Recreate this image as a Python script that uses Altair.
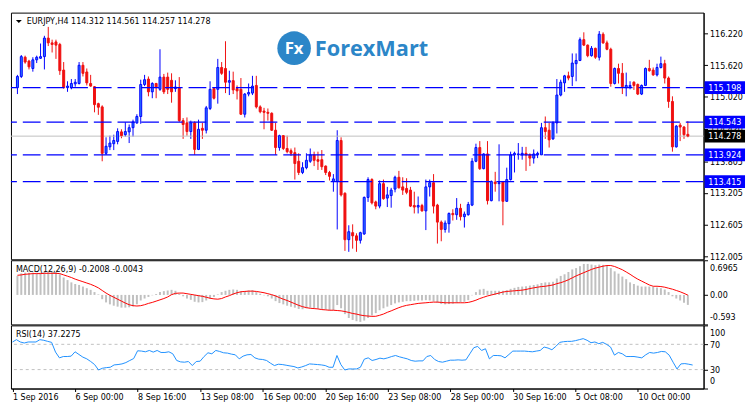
import altair as alt
import pandas as pd

# ---------------- data ----------------
opens = [
115.196, 115.408, 115.772, 115.699, 115.559, 115.723, 115.753, 115.784, 116.135, 116.044,
116.062, 116.014, 115.529, 115.196, 115.196, 115.268, 115.275, 115.620, 115.493, 115.275,
115.214, 114.893, 114.832, 113.953, 114.075, 114.135, 114.178, 114.359, 114.305, 114.359,
114.438, 114.529, 114.650, 115.256, 115.359, 115.117, 115.275, 115.165, 115.396, 115.396,
115.335, 115.178, 115.196, 114.572, 114.529, 114.365, 114.529, 114.026, 114.426, 114.390,
114.802, 115.178, 115.165, 115.578, 115.559, 115.299, 115.329, 115.178, 115.165, 114.693,
115.075, 115.093, 115.238, 114.832, 114.753, 114.729, 114.711, 114.390, 114.062, 114.287,
114.044, 114.002, 113.965, 113.802, 113.590, 113.681, 113.802, 113.923, 113.832, 113.832,
113.711, 113.590, 113.420, 113.420, 114.196, 113.196, 112.317, 112.450, 112.390, 112.305,
112.426, 113.117, 113.456, 113.032, 112.953, 113.378, 113.105, 113.153, 113.275, 113.499,
113.317, 113.287, 113.256, 112.965, 112.935, 112.965, 112.862, 113.317, 113.396, 112.972,
112.650, 112.511, 112.620, 112.814, 112.790, 112.911, 112.753, 112.790, 112.972, 113.802,
114.062, 113.662, 113.941, 113.056, 113.408, 113.378, 113.408, 113.044, 113.456, 113.923,
113.923, 113.923, 113.953, 113.923, 113.862, 113.923, 113.923, 114.438, 114.390, 114.226,
114.529, 115.056, 115.287, 115.420, 115.408, 115.650, 115.711, 116.105, 116.002, 115.802,
115.941, 115.772, 116.208, 116.044, 115.923, 115.275, 115.559, 115.468, 115.196, 115.214,
115.299, 115.256, 115.075, 115.238, 115.559, 115.529, 115.438, 115.578, 115.650, 115.378,
114.935, 114.075, 114.487, 114.450, 114.312]

highs = [
115.438, 115.814, 115.802, 115.723, 115.772, 115.802, 116.032, 116.178, 116.347, 116.105,
116.105, 116.044, 115.681, 115.317, 115.359, 115.359, 115.681, 115.681, 115.559, 115.438,
115.226, 114.911, 114.862, 114.256, 114.287, 114.305, 114.426, 114.408, 114.541, 114.499,
114.590, 114.693, 115.347, 115.438, 115.408, 115.299, 115.287, 115.923, 115.456, 115.481,
115.468, 115.335, 115.396, 114.620, 114.632, 114.572, 114.559, 114.590, 114.529, 114.850,
115.317, 115.196, 115.741, 115.681, 116.075, 115.517, 115.499, 115.238, 115.378, 115.093,
115.275, 115.420, 115.420, 114.862, 114.814, 114.802, 114.729, 114.529, 114.305, 114.299,
114.287, 114.044, 114.062, 113.953, 113.784, 113.953, 114.044, 113.984, 113.984, 114.014,
113.723, 113.620, 113.559, 114.390, 114.256, 113.214, 112.590, 112.608, 112.438, 112.468,
113.135, 113.499, 113.481, 113.056, 113.438, 113.456, 113.317, 113.299, 113.529, 113.620,
113.499, 113.481, 113.317, 113.226, 113.135, 112.996, 113.456, 113.456, 113.559, 112.996,
112.681, 112.681, 112.832, 112.893, 113.105, 112.996, 112.850, 113.032, 113.862, 114.135,
114.184, 113.953, 114.184, 113.438, 113.602, 114.123, 113.420, 113.681, 113.984, 113.984,
114.147, 114.075, 114.075, 113.953, 114.026, 113.984, 114.529, 114.650, 114.529, 114.559,
115.359, 115.347, 115.438, 115.499, 115.844, 115.844, 116.147, 116.244, 116.014, 115.984,
115.953, 116.268, 116.244, 116.087, 115.953, 115.578, 115.650, 115.662, 115.481, 115.317,
115.317, 115.275, 115.256, 115.578, 115.723, 115.578, 115.650, 115.784, 115.723, 115.408,
115.032, 114.487, 114.529, 114.468, 114.561]

lows = [
115.075, 115.378, 115.650, 115.541, 115.499, 115.662, 115.741, 115.541, 115.984, 115.862,
115.741, 115.438, 115.178, 115.117, 115.165, 115.214, 115.256, 115.408, 115.238, 115.214,
114.729, 114.681, 113.802, 113.923, 114.014, 114.014, 114.123, 114.238, 114.268, 114.147,
114.268, 114.511, 114.511, 115.226, 115.032, 114.996, 114.996, 115.135, 115.075, 115.075,
114.911, 115.117, 114.547, 114.226, 114.287, 114.226, 113.923, 114.014, 114.226, 114.329,
114.772, 114.972, 114.893, 115.438, 115.093, 115.056, 115.075, 114.972, 114.681, 114.632,
115.032, 115.056, 114.802, 114.711, 114.408, 114.572, 114.378, 113.923, 114.002, 114.014,
113.953, 113.905, 113.456, 113.541, 113.559, 113.650, 113.772, 113.711, 113.638, 113.638,
113.541, 113.438, 113.226, 112.511, 113.135, 112.105, 112.087, 112.147, 112.087, 112.244,
112.408, 113.032, 112.984, 112.893, 112.911, 113.075, 112.935, 112.923, 113.214, 113.287,
113.165, 113.178, 112.935, 112.814, 112.814, 112.850, 112.499, 113.135, 112.814, 112.244,
112.287, 112.450, 112.450, 112.681, 112.693, 112.681, 112.547, 112.772, 112.953, 113.784,
113.638, 113.650, 112.984, 113.044, 113.226, 113.044, 112.590, 113.032, 113.438, 113.590,
113.832, 113.832, 113.620, 113.711, 113.759, 113.862, 113.923, 114.226, 114.062, 114.208,
114.329, 115.032, 115.117, 115.335, 115.226, 115.317, 115.699, 115.984, 115.772, 115.784,
115.741, 115.711, 116.026, 115.905, 115.214, 115.256, 115.275, 115.075, 115.032, 115.165,
115.153, 115.056, 115.056, 115.226, 115.499, 115.420, 115.408, 115.559, 115.275, 114.814,
113.984, 114.062, 114.184, 114.226, 114.257]

closes = [
115.408, 115.784, 115.681, 115.590, 115.723, 115.772, 115.784, 116.135, 116.044, 116.014,
116.002, 115.517, 115.196, 115.226, 115.275, 115.299, 115.620, 115.468, 115.287, 115.226,
114.875, 114.826, 113.953, 114.087, 114.147, 114.196, 114.365, 114.287, 114.365, 114.438,
114.547, 114.650, 115.256, 115.347, 115.117, 115.275, 115.196, 115.396, 115.117, 115.165,
115.117, 115.208, 114.572, 114.499, 114.365, 114.529, 114.026, 114.408, 114.390, 114.814,
115.165, 114.996, 115.578, 115.468, 115.299, 115.329, 115.153, 115.135, 114.693, 115.075,
115.105, 115.226, 114.832, 114.741, 114.729, 114.711, 114.390, 114.062, 114.287, 114.044,
113.984, 113.953, 113.759, 113.590, 113.681, 113.820, 113.923, 113.820, 113.802, 113.699,
113.590, 113.517, 113.468, 114.196, 113.165, 112.317, 112.468, 112.390, 112.305, 112.450,
113.117, 113.456, 113.014, 112.953, 113.378, 113.093, 113.165, 113.256, 113.499, 113.299,
113.256, 113.214, 112.953, 112.935, 112.965, 112.862, 113.317, 113.396, 112.953, 112.650,
112.511, 112.632, 112.814, 112.790, 112.911, 112.753, 112.802, 112.984, 113.802, 114.062,
113.662, 113.941, 113.056, 113.420, 113.378, 113.396, 113.044, 113.456, 113.923, 113.953,
113.941, 113.953, 113.923, 113.862, 113.941, 113.953, 114.438, 114.365, 114.208, 114.529,
115.056, 115.299, 115.420, 115.378, 115.662, 115.711, 116.105, 116.002, 115.802, 115.941,
115.772, 116.208, 116.044, 115.923, 115.275, 115.559, 115.468, 115.214, 115.238, 115.238,
115.238, 115.075, 115.238, 115.559, 115.517, 115.438, 115.578, 115.650, 115.378, 114.935,
114.075, 114.468, 114.450, 114.305, 114.278]

macd_hist = [
0.382, 0.434, 0.448, 0.448, 0.448, 0.448, 0.448, 0.461, 0.467, 0.467,
0.461, 0.415, 0.350, 0.298, 0.252, 0.220, 0.200, 0.168, 0.135, 0.102,
0.057, 0.011, -0.086, -0.151, -0.190, -0.217, -0.236, -0.256, -0.256, -0.249,
-0.230, -0.190, -0.112, -0.073, -0.041, -0.008, 0.018, 0.057, 0.076, 0.089,
0.102, 0.083, 0.024, -0.028, -0.073, -0.099, -0.138, -0.151, -0.145, -0.112,
-0.073, -0.041, 0.011, 0.057, 0.083, 0.102, 0.109, 0.102, 0.070, 0.076,
0.089, 0.096, 0.057, 0.024, -0.008, -0.028, -0.073, -0.125, -0.164, -0.190,
-0.217, -0.236, -0.256, -0.282, -0.288, -0.269, -0.256, -0.262, -0.275, -0.282,
-0.295, -0.314, -0.308, -0.204, -0.269, -0.386, -0.464, -0.503, -0.529, -0.542,
-0.516, -0.464, -0.412, -0.366, -0.308, -0.269, -0.236, -0.204, -0.171, -0.151,
-0.138, -0.125, -0.125, -0.119, -0.112, -0.112, -0.106, -0.112, -0.132, -0.158,
-0.184, -0.190, -0.184, -0.177, -0.164, -0.151, -0.138, -0.106, -0.008, 0.057,
0.109, 0.122, 0.083, 0.083, 0.083, 0.083, 0.083, 0.096, 0.122, 0.142,
0.161, 0.168, 0.174, 0.187, 0.200, 0.213, 0.239, 0.252, 0.252, 0.265,
0.330, 0.382, 0.415, 0.461, 0.513, 0.539, 0.578, 0.623, 0.623, 0.610,
0.597, 0.610, 0.604, 0.591, 0.539, 0.474, 0.428, 0.369, 0.317, 0.252,
0.220, 0.187, 0.168, 0.168, 0.168, 0.161, 0.148, 0.135, 0.109, 0.057,
-0.028, -0.073, -0.112, -0.158, -0.2008]

macd_signal = [
0.395, 0.402, 0.415, 0.421, 0.428, 0.428, 0.428, 0.434, 0.434, 0.434,
0.434, 0.428, 0.402, 0.376, 0.350, 0.317, 0.291, 0.265, 0.239, 0.213,
0.181, 0.142, 0.089, 0.037, -0.008, -0.047, -0.086, -0.125, -0.164, -0.197,
-0.217, -0.223, -0.217, -0.197, -0.171, -0.151, -0.125, -0.099, -0.073, -0.041,
0.005, 0.031, 0.037, 0.037, 0.024, 0.011, -0.002, -0.015, -0.028, -0.047,
-0.067, -0.080, -0.086, -0.073, -0.041, -0.015, 0.018, 0.044, 0.063, 0.070,
0.076, 0.076, 0.070, 0.057, 0.044, 0.024, 0.005, -0.021, -0.054, -0.086,
-0.112, -0.145, -0.177, -0.210, -0.236, -0.256, -0.269, -0.275, -0.282, -0.295,
-0.301, -0.308, -0.308, -0.314, -0.321, -0.334, -0.353, -0.373, -0.386, -0.405,
-0.418, -0.425, -0.431, -0.430, -0.410, -0.385, -0.350, -0.321, -0.288, -0.256,
-0.230, -0.210, -0.197, -0.184, -0.171, -0.164, -0.158, -0.151, -0.145, -0.145,
-0.151, -0.158, -0.158, -0.158, -0.158, -0.158, -0.158, -0.151, -0.132, -0.106,
-0.073, -0.047, -0.021, -0.002, 0.018, 0.037, 0.057, 0.070, 0.076, 0.083,
0.089, 0.096, 0.109, 0.128, 0.142, 0.155, 0.168, 0.174, 0.187, 0.200,
0.226, 0.246, 0.272, 0.304, 0.343, 0.382, 0.415, 0.448, 0.480, 0.513,
0.539, 0.558, 0.578, 0.591, 0.591, 0.571, 0.539, 0.506, 0.461, 0.415,
0.363, 0.317, 0.278, 0.239, 0.200, 0.174, 0.174, 0.168, 0.155, 0.135,
0.115, 0.089, 0.063, 0.031, -0.0043]

rsi = [
73.7, 77.4, 73.7, 72.1, 73.7, 73.7, 73.7, 77.4, 76.4, 74.7,
73.1, 57.7, 48.6, 50.7, 50.7, 51.3, 58.2, 53.9, 49.7, 47.0,
42.8, 38.0, 29.4, 32.1, 33.1, 33.7, 37.4, 38.0, 39.0, 41.1,
44.4, 47.5, 59.8, 59.3, 58.2, 60.3, 57.7, 60.3, 57.1, 57.1,
58.2, 55.0, 44.4, 42.2, 41.7, 42.8, 36.4, 42.8, 43.3, 50.7,
56.6, 55.0, 60.3, 58.7, 56.6, 56.1, 54.5, 53.4, 47.0, 51.3,
53.4, 53.9, 48.6, 46.5, 46.0, 44.4, 40.1, 36.4, 38.5, 38.0,
36.9, 35.8, 34.8, 32.6, 34.2, 36.4, 39.0, 38.5, 38.0, 37.4,
36.4, 33.7, 33.7, 52.3, 38.0, 29.4, 31.0, 31.0, 31.0, 33.7,
46.5, 48.6, 44.4, 46.0, 48.1, 47.0, 48.6, 50.7, 52.3, 50.2,
48.6, 47.0, 44.4, 43.3, 43.8, 43.8, 50.7, 52.3, 46.0, 42.8,
41.7, 43.3, 44.9, 44.9, 45.4, 44.9, 45.4, 55.0, 64.6, 66.7,
60.3, 63.0, 47.0, 52.3, 52.3, 51.8, 48.6, 53.9, 59.3, 59.3,
59.3, 59.3, 58.7, 58.2, 59.3, 60.3, 65.7, 64.1, 61.4, 66.7,
73.1, 74.2, 74.7, 74.7, 75.8, 77.4, 79.0, 76.4, 72.6, 73.7,
71.0, 73.1, 69.9, 65.7, 52.9, 57.1, 55.0, 50.7, 50.7, 50.7,
49.7, 48.6, 53.4, 57.1, 56.1, 57.1, 58.7, 58.2, 52.9, 41.7,
31.0, 39.0, 39.5, 38.5, 37.2275]

levels = [115.198, 114.543, 113.924, 113.415]
bid = [114.278]
price_ticks = [116.220, 115.620, 115.020, 114.420, 113.805, 113.205, 112.605, 112.005]
macd_ticks = [0.6965, 0.0, -0.593]
rsi_ticks = [100, 70, 30, 0]
rsi_levels = [70, 30]
date_bars = [0, 16, 32, 48, 64, 80, 96, 112, 128, 144, 160]
date_labels = ["1 Sep 2016", "6 Sep 00:00", "8 Sep 16:00", "13 Sep 08:00", "16 Sep 00:00",
               "20 Sep 16:00", "23 Sep 08:00", "28 Sep 00:00", "30 Sep 16:00",
               "5 Oct 08:00", "10 Oct 00:00"]
title_main = "EURJPY,H4  114.312 114.561 114.257 114.278"
title_macd = "MACD(12,26,9) -0.2008 -0.0043"
title_rsi = "RSI(14) 37.2275"
logo_text = "ForexMart"
logo_mark = "Fx"

# ---------------- styling ----------------
W, H1, H2, H3 = 702, 250, 65, 64
FONT = "DejaVu Sans Condensed, Liberation Sans, sans-serif"
FS = 9
BLUE = "#0000ff"
RED = "#f01010"
BULL_FILL = "#2a7fff"
LOGO = "#2c86c8"

n = len(closes)
df = pd.DataFrame({"i": list(range(n)), "open": opens, "high": highs, "low": lows,
                   "close": closes, "macd": macd_hist, "signal": macd_signal, "rsi": rsi})
df["dir"] = ["up" if c >= o else "down" for o, c in zip(opens, closes)]

xs = alt.Scale(domain=[-0.4, 176.8], nice=False, zero=False)
ps = alt.Scale(domain=[111.946, 116.617], nice=False, zero=False)
ms = alt.Scale(domain=[-0.593, 0.6965], nice=False, zero=False)
rs = alt.Scale(domain=[0, 100], nice=False, zero=False)
dir_stroke = alt.Scale(domain=["up", "down"], range=[BLUE, RED])
dir_fill = alt.Scale(domain=["up", "down"], range=[BULL_FILL, RED])

X = alt.X("i:Q", scale=xs, axis=None)
base = alt.Chart(df)
one = pd.DataFrame({"a": [0]})

price_axis = alt.Axis(orient="right", values=price_ticks, format=".3f", tickSize=4,
                      labelPadding=2, title=None, grid=False)


def PY(field):
    return alt.Y(field, scale=ps, axis=price_axis)


bid_df = pd.DataFrame({"level": bid, "label": [f"{v:.3f}" for v in bid]})
lev_df = pd.DataFrame({"level": levels, "label": [f"{v:.3f}" for v in levels]})

bid_line = alt.Chart(bid_df).mark_rule(color="#c0c0c0", strokeWidth=1).encode(y=PY("level:Q"))
wicks = base.mark_rule(strokeWidth=1).encode(
    x=X, y=PY("low:Q"), y2="high:Q",
    color=alt.Color("dir:N", scale=dir_stroke, legend=None))
bodies = base.mark_bar(size=2, strokeWidth=1).encode(
    x=X, y=PY("open:Q"), y2="close:Q",
    fill=alt.Fill("dir:N", scale=dir_fill, legend=None),
    stroke=alt.Stroke("dir:N", scale=dir_stroke, legend=None))
dashed = alt.Chart(lev_df).mark_rule(color=BLUE, strokeWidth=1.3, strokeDash=[18, 6]).encode(
    y=PY("level:Q"))

BOX = "M-1,-0.317L1,-0.317L1,0.317L-1,0.317Z"
BX = W + 21.5
boxes = alt.Chart(lev_df).mark_point(shape=BOX, size=41 * 41, filled=True, opacity=1,
                                     color=BLUE).encode(x=alt.value(BX), y=PY("level:Q"))
box_text = alt.Chart(lev_df).mark_text(color="white", font=FONT, fontSize=FS, align="center",
                                       baseline="middle").encode(
    x=alt.value(BX), y=PY("level:Q"), text="label:N")
bid_box = alt.Chart(bid_df).mark_point(shape=BOX, size=41 * 41, filled=True, opacity=1,
                                       color="black").encode(x=alt.value(BX), y=PY("level:Q"))
bid_text = alt.Chart(bid_df).mark_text(color="white", font=FONT, fontSize=FS, align="center",
                                       baseline="middle").encode(
    x=alt.value(BX), y=PY("level:Q"), text="label:N")

tri = alt.Chart(one).mark_point(shape="M-1,-0.5L1,-0.5L0,0.5Z", size=36, filled=True,
                                opacity=1, color="black").encode(
    x=alt.value(8), y=alt.value(9))
t_main = alt.Chart(one).mark_text(align="left", baseline="middle", font=FONT, fontSize=FS,
                                  color="black").encode(
    x=alt.value(16), y=alt.value(9), text=alt.value(title_main))
logo_c = alt.Chart(one).mark_point(shape="circle", size=34 * 34, filled=True, opacity=1,
                                   color=LOGO).encode(x=alt.value(287), y=alt.value(36))
logo_fx = alt.Chart(one).mark_text(align="center", baseline="middle", font="Open Sans",
                                   fontWeight="bold", fontSize=17, color="white").encode(
    x=alt.value(287), y=alt.value(37), text=alt.value(logo_mark))
logo_t = alt.Chart(one).mark_text(align="left", baseline="middle", font="Open Sans",
                                  fontWeight="bold", fontSize=22, color=LOGO).encode(
    x=alt.value(308), y=alt.value(37), text=alt.value(logo_text))

main = alt.layer(wicks, bid_line, bodies, dashed, boxes, box_text, bid_box, bid_text,
                 tri, t_main, logo_c, logo_fx, logo_t).properties(width=W, height=H1)

# ---------------- MACD ----------------
macd_axis = alt.Axis(orient="right", values=macd_ticks,
                     labelExpr="datum.value > 0.5 ? '0.6965' : (datum.value < -0.5 ? '-0.593' : '0.00')",
                     labelFlush=True, labelFlushOffset=-3, tickSize=4, labelPadding=2,
                     title=None, grid=False)
hist = base.mark_bar(size=2, color="#c0c0c0").encode(
    x=X, y=alt.Y("macd:Q", scale=ms, axis=macd_axis), y2=alt.datum(0))
sig = base.mark_line(color="#ff0000", strokeWidth=1).encode(
    x=X, y=alt.Y("signal:Q", scale=ms, axis=macd_axis))
t_macd = alt.Chart(one).mark_text(align="left", baseline="middle", font=FONT, fontSize=FS,
                                  color="black").encode(
    x=alt.value(5), y=alt.value(9), text=alt.value(title_macd))
macd = alt.layer(hist, sig, t_macd).properties(width=W, height=H2)

# ---------------- RSI ----------------
label_list = "[" + ",".join("'" + s + "'" for s in date_labels) + "]"
x_axis = alt.Axis(values=date_bars, labelExpr=label_list + "[round(datum.value / 16)]",
                  labelAlign="left", labelBaseline="top", labelFlush=False, labelOverlap=False,
                  tickSize=3, labelPadding=1, title=None, grid=False)
rsi_axis = alt.Axis(orient="right", values=rsi_ticks, labelFlush=True, labelFlushOffset=-3,
                    tickSize=4, labelPadding=2, title=None, grid=False)
rl_df = pd.DataFrame({"lv": rsi_levels})
rsi_line = base.mark_line(color="#1e90ff", strokeWidth=1).encode(
    x=alt.X("i:Q", scale=xs, axis=x_axis), y=alt.Y("rsi:Q", scale=rs, axis=rsi_axis))
rsi_lines = alt.Chart(rl_df).mark_rule(color="#c0c0c0", strokeDash=[3, 3], strokeWidth=1).encode(
    y=alt.Y("lv:Q", scale=rs, axis=rsi_axis))
t_rsi = alt.Chart(one).mark_text(align="left", baseline="middle", font=FONT, fontSize=FS,
                                 color="black").encode(
    x=alt.value(5), y=alt.value(9), text=alt.value(title_rsi))
rsi_chart = alt.layer(rsi_lines, rsi_line, t_rsi).properties(width=W, height=H3)

chart = alt.vconcat(main, macd, rsi_chart, spacing=1).properties(
    bounds="flush", background="white",
    padding={"left": 1, "top": 1, "right": 0, "bottom": 0}
).configure_view(stroke="black", strokeWidth=1).configure_axis(
    labelFont=FONT, labelFontSize=FS, labelColor="black", tickColor="black",
    domainColor="black", grid=False)

chart.save("out.html", embed_options={"renderer": "svg", "actions": False})
